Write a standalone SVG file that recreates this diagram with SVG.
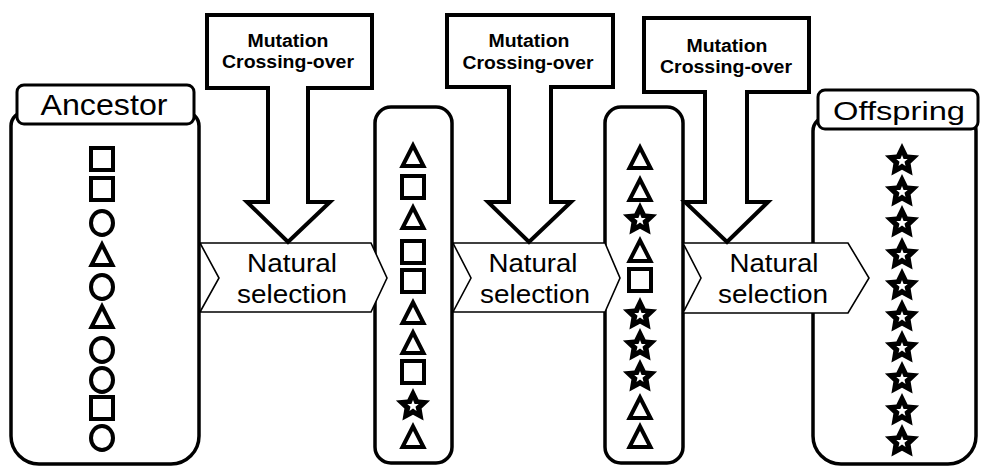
<svg xmlns="http://www.w3.org/2000/svg" xmlns:xlink="http://www.w3.org/1999/xlink" width="981" height="467" viewBox="0 0 981 467">
<style>
.col{fill:#fff;stroke:#000;stroke-width:3.5}
.tab{fill:#fff;stroke:#000;stroke-width:3}
.shp{fill:#fff;stroke:#000;stroke-width:4;stroke-linejoin:miter}
.chev{fill:#fff;stroke:#000;stroke-width:1.6;stroke-linejoin:miter}
.call{fill:#fff;stroke:#000;stroke-width:4;stroke-linejoin:miter}
.lbl{font-family:"Liberation Sans",Arial,sans-serif;fill:#000;text-anchor:middle}
.big{font-size:29px}
.ns{font-size:25px}
.mut{font-size:18px;font-weight:bold}
</style>
<defs>
<g id="sq"><rect x="-11" y="-11" width="22" height="22" class="shp"/></g>
<g id="ci"><ellipse cx="0" cy="0" rx="11" ry="12" class="shp"/></g>
<g id="tr"><path d="M0,-9.5 L10.5,11 L-10.5,11 Z" class="shp"/></g>
<g id="st"><path d="M0,-18 L5.6,-6.6 L17.1,-5.6 L8.6,2.6 L10.6,14.6 L0,8.8 L-10.6,14.6 L-8.6,2.6 L-17.1,-5.6 L-5.6,-6.6 Z" fill="#000"/><path d="M0,-6 L1.6,-2 L5.7,-1.9 L2.5,0.8 L3.5,4.9 L0,2.6 L-3.5,4.9 L-2.5,0.8 L-5.7,-1.9 L-1.6,-2 Z" fill="#fff"/></g>
</defs>

<g id="ancestor">
<path class="col" d="M11,126 A14,14 0 0 1 25,112 H185 A14,14 0 0 1 199,126 V436 A28,28 0 0 1 171,464 H39 A28,28 0 0 1 11,436 Z"/>
<rect class="tab" x="17" y="85" width="177" height="39" rx="7"/>
<text class="lbl big" x="104" y="115" textLength="127" lengthAdjust="spacingAndGlyphs">Ancestor</text>
<use href="#sq" x="102" y="159"/>
<use href="#sq" x="102" y="189"/>
<use href="#ci" x="102" y="223"/>
<use href="#tr" x="102" y="254"/>
<use href="#ci" x="102" y="287"/>
<use href="#tr" x="102" y="316"/>
<use href="#ci" x="102" y="350"/>
<use href="#ci" x="102" y="380"/>
<use href="#sq" x="102" y="408"/>
<use href="#ci" x="102" y="438"/>
</g>

<g id="generation2">
<rect class="col" x="375" y="107" width="77" height="356" rx="16"/>
<use href="#tr" x="413" y="155"/>
<use href="#sq" x="413" y="187"/>
<use href="#tr" x="413" y="217"/>
<use href="#sq" x="413" y="252"/>
<use href="#sq" x="413" y="281"/>
<use href="#tr" x="413" y="312"/>
<use href="#tr" x="413" y="342"/>
<use href="#sq" x="413" y="372"/>
<use href="#st" x="413" y="406"/>
<use href="#tr" x="413" y="436"/>
</g>

<g id="generation3">
<rect class="col" x="605" y="107" width="78" height="356" rx="16"/>
<use href="#tr" x="640" y="157"/>
<use href="#tr" x="640" y="189"/>
<use href="#st" x="640" y="220"/>
<use href="#tr" x="640" y="250"/>
<use href="#sq" x="640" y="280"/>
<use href="#st" x="640" y="315"/>
<use href="#st" x="640" y="346"/>
<use href="#st" x="640" y="377"/>
<use href="#tr" x="640" y="407"/>
<use href="#tr" x="640" y="436"/>
</g>

<g id="offspring">
<path class="col" d="M813,131 A14,14 0 0 1 827,117 H962 A14,14 0 0 1 976,131 V436 A28,28 0 0 1 948,464 H841 A28,28 0 0 1 813,436 Z"/>
<rect class="tab" x="818" y="90" width="160" height="39" rx="7"/>
<text class="lbl big" x="899" y="120" style="font-size:26px" textLength="132" lengthAdjust="spacingAndGlyphs">Offspring</text>
<use href="#st" x="902" y="161"/>
<use href="#st" x="902" y="192"/>
<use href="#st" x="902" y="223"/>
<use href="#st" x="902" y="255"/>
<use href="#st" x="902" y="286"/>
<use href="#st" x="902" y="317"/>
<use href="#st" x="902" y="348"/>
<use href="#st" x="902" y="379"/>
<use href="#st" x="902" y="411"/>
<use href="#st" x="902" y="442"/>
</g>

<g id="connectors">
<g id="selection1">
<path class="chev" d="M200,243 H371 L387,278 L371,312 H200 L219,278 Z"/>
<text class="lbl ns" x="292" y="272" textLength="90" lengthAdjust="spacingAndGlyphs">Natural</text>
<text class="lbl ns" x="292" y="303" textLength="110" lengthAdjust="spacingAndGlyphs">selection</text>
</g>
<g id="selection2">
<path class="chev" d="M453,243 H605 L620,278 L605,312 H453 L471,278 Z"/>
<text class="lbl ns" x="533" y="272" textLength="89" lengthAdjust="spacingAndGlyphs">Natural</text>
<text class="lbl ns" x="535" y="303" textLength="110" lengthAdjust="spacingAndGlyphs">selection</text>
</g>
<g id="selection3">
<path class="chev" d="M683,243 H848 L869,278 L848,313 H683 L701,278 Z"/>
<text class="lbl ns" x="774" y="272" textLength="89" lengthAdjust="spacingAndGlyphs">Natural</text>
<text class="lbl ns" x="773" y="303" textLength="110" lengthAdjust="spacingAndGlyphs">selection</text>
</g>
</g>

<g id="mutation1">
<path class="call" d="M207,15 H372 V88 H308 V202 H330 L288,242 L247,202 H268 V88 H207 Z"/>
<text class="lbl mut" x="288" y="47" textLength="81" lengthAdjust="spacingAndGlyphs">Mutation</text>
<text class="lbl mut" x="288" y="68" textLength="132" lengthAdjust="spacingAndGlyphs">Crossing-over</text>
</g>
<g id="mutation2">
<path class="call" d="M447,15 H613 V87 H551 V202 H571 L529,242 L488,202 H509 V87 H447 Z"/>
<text class="lbl mut" x="529" y="47" textLength="81" lengthAdjust="spacingAndGlyphs">Mutation</text>
<text class="lbl mut" x="528" y="69" textLength="131" lengthAdjust="spacingAndGlyphs">Crossing-over</text>
</g>
<g id="mutation3">
<path class="call" d="M644,18 H809 V92 H747 V202 H768 L727,242 L685,202 H705 V92 H644 Z"/>
<text class="lbl mut" x="727" y="52" textLength="81" lengthAdjust="spacingAndGlyphs">Mutation</text>
<text class="lbl mut" x="726" y="73" textLength="132" lengthAdjust="spacingAndGlyphs">Crossing-over</text>
</g>
</svg>
